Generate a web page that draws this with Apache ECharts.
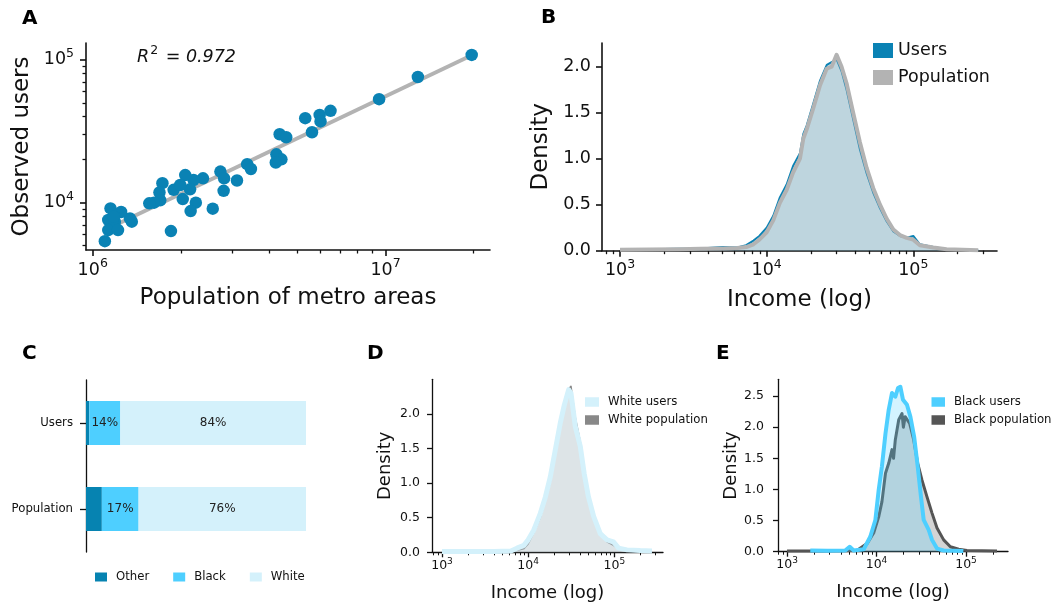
<!DOCTYPE html>
<html><head><meta charset="utf-8">
<script src="https://cdn.jsdelivr.net/npm/echarts@6/dist/echarts.min.js"></script>
<style>html,body{margin:0;padding:0;background:#fff}#c{width:1055px;height:610px}</style>
</head><body><div id="c"></div>
<script>
// ---------- Panel A: metro areas ----------
const metroPopulation = [1.97e7, 1.29e7, 9.51e6, 6.49e6, 5.96e6, 5.32e6, 6.0e6, 5.61e6, 4.35e6, 4.58e6, 4.24e6, 4.41e6, 4.22e6, 3.37e6, 3.47e6, 3.11e6, 2.73e6, 2.81e6, 2.80e6, 2.57e6, 2.38e6, 2.21e6, 2.07e6, 2.15e6, 1.89e6, 1.99e6, 2.03e6, 2.25e6, 2.16e6, 1.73e6, 1.69e6, 1.70e6, 1.62e6, 1.56e6, 1.85e6, 1.36e6, 1.34e6, 1.25e6, 1.15e6, 1.13e6, 1.19e6, 1.13e6, 1.22e6, 1.10e6, 1.18e6];
const metroUsers = [108000, 75700, 53000, 43900, 41100, 39000, 37000, 31100, 30100, 28700, 21800, 20100, 19100, 18600, 17200, 14300, 16500, 14800, 12100, 9080, 14800, 14400, 15600, 12400, 12300, 13300, 10600, 10000, 8730, 13700, 11800, 10400, 10000, 9890, 6330, 7370, 7760, 8610, 9120, 7570, 7370, 6430, 6430, 5380, 7980];
const r2Value = '0.972';

// ---------- Panel B: income density (log10 income) ----------
const incomeLogB = [3.0, 3.2, 3.4, 3.55, 3.7, 3.8, 3.86, 3.91, 3.95, 4.0, 4.045, 4.09, 4.136, 4.18, 4.227, 4.25, 4.273, 4.318, 4.364, 4.41, 4.443, 4.477, 4.511, 4.545, 4.59, 4.636, 4.682, 4.727, 4.773, 4.818, 4.864, 4.909, 4.955, 5.0, 5.045, 5.136, 5.227, 5.443];
const densityUsersB = [0.012, 0.015, 0.02, 0.025, 0.04, 0.035, 0.06, 0.11, 0.16, 0.25, 0.38, 0.58, 0.72, 0.92, 1.06, 1.27, 1.36, 1.6, 1.85, 2.02, 2.05, 2.08, 1.95, 1.75, 1.43, 1.1, 0.84, 0.63, 0.46, 0.32, 0.21, 0.16, 0.14, 0.16, 0.07, 0.04, 0.015, 0.005];
const densityPopB = [0.01, 0.012, 0.015, 0.02, 0.025, 0.03, 0.04, 0.07, 0.12, 0.2, 0.33, 0.52, 0.66, 0.85, 1.0, 1.22, 1.32, 1.55, 1.8, 1.98, 2.0, 2.13, 2.0, 1.82, 1.5, 1.18, 0.9, 0.68, 0.5, 0.35, 0.23, 0.17, 0.14, 0.12, 0.06, 0.035, 0.015, 0.005];

// ---------- Panel C: race shares (%) ----------
const shareCategories = ['Users', 'Population'];
const raceGroups = ['Other', 'Black', 'White'];
const shareOther = [1.5, 7.2];
const shareBlack = [14.1, 16.7];
const shareWhite = [84.4, 76.1];

// ---------- Panel D: white income density ----------
const incomeLogD = [3.0, 3.3, 3.6, 3.8, 3.87, 3.95, 4.0, 4.064, 4.14, 4.2, 4.257, 4.315, 4.373, 4.42, 4.47, 4.497, 4.547, 4.605, 4.65, 4.70, 4.76, 4.837, 4.915, 4.99, 5.05, 5.147, 5.3, 5.437];
const densityWhiteUsers = [0.01, 0.01, 0.012, 0.02, 0.06, 0.1, 0.18, 0.32, 0.56, 0.8, 1.09, 1.48, 1.87, 2.13, 2.35, 2.3, 1.82, 1.53, 1.14, 0.8, 0.52, 0.27, 0.18, 0.15, 0.06, 0.035, 0.025, 0.02];
const densityWhitePop = [0.005, 0.005, 0.008, 0.012, 0.03, 0.05, 0.12, 0.28, 0.5, 0.75, 1.02, 1.42, 1.82, 2.12, 2.36, 2.40, 1.95, 1.6, 1.2, 0.85, 0.55, 0.28, 0.15, 0.1, 0.05, 0.02, 0.012, 0.008];

// ---------- Panel E: black income density ----------
const incomeLogBlackUsers = [3.26, 3.45, 3.65, 3.70, 3.745, 3.857, 3.93, 3.987, 4.024, 4.06, 4.1, 4.136, 4.173, 4.21, 4.24, 4.266, 4.296, 4.34, 4.378, 4.42, 4.46, 4.497, 4.527, 4.583, 4.62, 4.676, 4.75, 4.97];
const densityBlackUsers = [0.02, 0.015, 0.02, 0.08, 0.02, 0.04, 0.24, 0.51, 0.99, 1.37, 1.9, 2.28, 2.55, 2.49, 2.63, 2.65, 2.44, 2.36, 2.17, 1.85, 1.37, 0.88, 0.51, 0.35, 0.19, 0.05, 0.02, 0.01];
const incomeLogBlackPop = [3.0, 3.4, 3.78, 3.894, 3.968, 4.024, 4.06, 4.1, 4.136, 4.173, 4.19, 4.21, 4.248, 4.285, 4.3, 4.32, 4.37, 4.415, 4.46, 4.508, 4.564, 4.62, 4.676, 4.75, 4.825, 4.918, 5.01, 5.346];
const densityBlackPop = [0.01, 0.01, 0.02, 0.13, 0.3, 0.56, 0.8, 1.26, 1.42, 1.64, 1.5, 1.8, 2.12, 2.22, 2.0, 2.17, 2.06, 1.8, 1.42, 1.15, 0.88, 0.62, 0.38, 0.19, 0.08, 0.04, 0.02, 0.01];

const densityTicksBD = [0, 0.5, 1, 1.5, 2];
const densityTicksE = [0, 0.5, 1, 1.5, 2, 2.5];

// ---------- helpers ----------
const FONT = 'DejaVu Sans';
const INK = '#111';
const C_USERS = '#0a82b4', C_POP = '#b3b3b3';
const C_OTHER = '#0683b1', C_BLACK = '#4ecfff', C_WHITE = '#d4f1fb';
const zip = (a, b) => a.map((v, i) => [v, b[i]]);

function majors(min, max) { const r = []; for (let n = Math.ceil(min); n <= max; n++) r.push(n); return r; }
function minors(min, max) {
  const r = [];
  for (let n = Math.floor(min); n <= Math.floor(max); n++)
    for (let k = 2; k <= 9; k++) { const v = n + Math.log10(k); if (v >= min && v <= max) r.push(v); }
  return r;
}
function richLog(base, sup, raise) {
  return {
    b: { fontSize: base, lineHeight: Math.round(base), fontFamily: FONT, color: INK },
    s: { fontSize: sup, lineHeight: Math.round(sup), fontFamily: FONT, color: INK, padding: [0, 0, raise * 2, 0] }
  };
}
const logFmt = v => '{b|10}{s|' + Math.round(v) + '}';

function logAxes(dim, gridIndex, min, max, o) {
  const pos = dim === 'x' ? 'bottom' : 'left';
  const major = {
    type: 'value', gridIndex, min, max, position: pos,
    splitLine: { show: false },
    axisLine: { show: true, onZero: false, lineStyle: { color: INK, width: o.lw } },
    axisTick: { show: true, customValues: majors(min, max), length: o.tl, lineStyle: { color: INK, width: o.lw } },
    axisLabel: { show: true, customValues: majors(min, max), margin: o.margin, formatter: logFmt, rich: richLog(o.fs, o.sfs, o.raise) },
    name: o.name, nameLocation: 'middle', nameGap: o.nameGap,
    nameTextStyle: { fontSize: o.nfs, fontFamily: FONT, color: INK }
  };
  const minor = {
    type: 'value', gridIndex, min, max, position: pos,
    splitLine: { show: false },
    axisLine: { show: false, onZero: false },
    axisTick: { show: true, customValues: minors(min, max), length: o.mtl, lineStyle: { color: INK, width: o.lw * 0.8 } },
    axisLabel: { show: false }
  };
  return [major, minor];
}
function densAxis(gridIndex, max, ticks, o) {
  return {
    type: 'value', gridIndex, min: 0, max, position: 'left',
    splitLine: { show: false },
    axisLine: { show: true, onZero: false, lineStyle: { color: INK, width: o.lw } },
    axisTick: { show: true, customValues: ticks, length: o.tl, lineStyle: { color: INK, width: o.lw } },
    axisLabel: { show: true, customValues: ticks, margin: o.margin, formatter: v => v.toFixed(1), fontSize: o.fs, fontFamily: FONT, color: INK },
    name: 'Density', nameLocation: 'middle', nameGap: o.nameGap,
    nameTextStyle: { fontSize: o.nfs, fontFamily: FONT, color: INK }
  };
}

// regression line in log-log space
const lx = metroPopulation.map(Math.log10), ly = metroUsers.map(Math.log10);
const mx = lx.reduce((a, b) => a + b, 0) / lx.length, my = ly.reduce((a, b) => a + b, 0) / ly.length;
let sxy = 0, sxx = 0;
lx.forEach((x, i) => { sxy += (x - mx) * (ly[i] - my); sxx += (x - mx) * (x - mx); });
const slope = sxy / sxx, icpt = my - slope * mx;
const xLo = Math.min(...lx), xHi = Math.max(...lx);
const fitLine = [[xLo, icpt + slope * xLo], [xHi, icpt + slope * xHi]];

const bigAx = { lw: 1.6, tl: 6, mtl: 3.5, fs: 17.5, sfs: 12.5, raise: 6, nfs: 23 };
const smallAx = { lw: 1.3, tl: 5, mtl: 3, fs: 12.5, sfs: 9, raise: 4.5, nfs: 18 };

const [axAx, axAxm] = logAxes('x', 0, 5.977, 7.357, Object.assign({}, bigAx, { margin: 11, name: 'Population of metro areas', nameGap: 37 }));
const [ayA, ayAm] = logAxes('y', 0, 3.669, 5.117, Object.assign({}, bigAx, { margin: 12, name: 'Observed users', nameGap: 52 }));
const [axB, axBm] = logAxes('x', 1, 2.877, 5.571, Object.assign({}, bigAx, { margin: 11, name: 'Income (log)', nameGap: 38 }));
const [axD, axDm] = logAxes('x', 3, 2.884, 5.565, Object.assign({}, smallAx, { margin: 7, name: 'Income (log)', nameGap: 32 }));
const [axE, axEm] = logAxes('x', 4, 2.899, 5.469, Object.assign({}, smallAx, { margin: 7, name: 'Income (log)', nameGap: 32 }));

const xC = { type: 'value', gridIndex: 2, min: 0, max: 100, show: false, splitLine: { show: false } };
const yC = {
  type: 'category', gridIndex: 2, data: shareCategories, inverse: true, position: 'left',
  axisLine: { show: true, onZero: false, lineStyle: { color: INK, width: 1.3 } },
  axisTick: { show: true, alignWithLabel: true, length: 6, lineStyle: { color: INK, width: 1.3 } },
  axisLabel: { margin: 13, fontSize: 11.7, fontFamily: FONT, color: INK },
  splitLine: { show: false }
};

function densLine(name, xs, ys, xi, yi, color, width, z) {
  return {
    name, type: 'line', xAxisIndex: xi, yAxisIndex: yi, data: zip(xs, ys),
    symbol: 'none', smooth: false, z,
    itemStyle: { color },
    lineStyle: { color, width, join: 'round' },
    areaStyle: { color, opacity: 0.25 }
  };
}
function barSeries(name, data, color, showLabel) {
  return {
    name, type: 'bar', stack: 'race', xAxisIndex: 4, yAxisIndex: 3, data, barWidth: 44,
    itemStyle: { color },
    label: { show: showLabel, position: 'inside', formatter: p => Math.round(p.value) + '%', fontSize: 12, fontFamily: FONT, color: '#222' }
  };
}
function legendItem(name, color) { return { name, icon: 'rect', itemStyle: { color, borderWidth: 0, opacity: 1 } }; }

const option = {
  animation: false,
  backgroundColor: '#fff',
  textStyle: { fontFamily: FONT },
  grid: [
    { left: 86, top: 43, width: 404, height: 207 },
    { left: 602, top: 43, width: 395, height: 207.7 },
    { left: 86, top: 380, width: 220, height: 172 },
    { left: 432, top: 379.3, width: 231, height: 173 },
    { left: 778, top: 379.3, width: 230, height: 172.4 }
  ],
  xAxis: [axAx, axAxm, axB, axBm, xC, axD, axDm, axE, axEm],
  yAxis: [ayA, ayAm,
    densAxis(1, 2.258, densityTicksBD, { lw: 1.6, tl: 6, margin: 11, fs: 17.5, nfs: 23, nameGap: 49 }),
    yC,
    densAxis(3, 2.50, densityTicksBD, { lw: 1.3, tl: 5, margin: 12, fs: 12.5, nfs: 18, nameGap: 38 }),
    densAxis(4, 2.77, densityTicksE, { lw: 1.3, tl: 5, margin: 14, fs: 12.5, nfs: 18, nameGap: 38 })
  ],
  legend: [
    { data: [legendItem('Users', C_USERS), legendItem('Population', C_POP)], orient: 'vertical', left: 868, top: 36.5,
      itemWidth: 20, itemHeight: 15, itemGap: 9, textStyle: { fontSize: 17.5, fontFamily: FONT, color: INK } },
    { data: [legendItem('Other', C_OTHER), legendItem('Black', C_BLACK), legendItem('White', C_WHITE)], orient: 'horizontal', left: 90, top: 566,
      itemWidth: 12, itemHeight: 9, itemGap: 24, textStyle: { fontSize: 11.7, fontFamily: FONT, color: INK, padding: [0, 0, 0, 4] } },
    { data: [legendItem('White users', C_WHITE), legendItem('White population', '#888')], orient: 'vertical', left: 580, top: 391,
      itemWidth: 14, itemHeight: 9.5, itemGap: 6, textStyle: { fontSize: 11.7, fontFamily: FONT, color: INK, padding: [0, 0, 0, 4] } },
    { data: [legendItem('Black users', C_BLACK), legendItem('Black population', '#555')], orient: 'vertical', left: 926.5, top: 391,
      itemWidth: 13.5, itemHeight: 9.5, itemGap: 6, textStyle: { fontSize: 11.7, fontFamily: FONT, color: INK, padding: [0, 0, 0, 4] } }
  ],
  series: [
    { type: 'line', xAxisIndex: 0, yAxisIndex: 0, data: fitLine, symbol: 'none', z: 1,
      lineStyle: { color: C_POP, width: 4 }, silent: true },
    { name: 'Metro areas', type: 'scatter', xAxisIndex: 0, yAxisIndex: 0, symbolSize: 12.5, z: 3,
      itemStyle: { color: C_USERS, opacity: 1 },
      data: zip(lx, ly) },
    densLine('Users', incomeLogB, densityUsersB, 2, 2, C_USERS, 2, 2),
    densLine('Population', incomeLogB, densityPopB, 2, 2, C_POP, 4, 3),
    barSeries('Other', shareOther, C_OTHER, false),
    barSeries('Black', shareBlack, C_BLACK, true),
    barSeries('White', shareWhite, C_WHITE, true),
    densLine('White population', incomeLogD, densityWhitePop, 5, 4, '#888', 1.5, 2),
    densLine('White users', incomeLogD, densityWhiteUsers, 5, 4, C_WHITE, 5, 3),
    densLine('Black population', incomeLogBlackPop, densityBlackPop, 7, 5, '#555', 3, 2),
    densLine('Black users', incomeLogBlackUsers, densityBlackUsers, 7, 5, C_BLACK, 4, 3)
  ],
  graphic: [
    { type: 'text', x: 22, y: 19, style: { text: 'A', fontSize: 20, fontWeight: 'bold', fontFamily: FONT, fill: '#000', verticalAlign: 'middle' } },
    { type: 'text', x: 541, y: 18, style: { text: 'B', fontSize: 20, fontWeight: 'bold', fontFamily: FONT, fill: '#000', verticalAlign: 'middle' } },
    { type: 'text', x: 22, y: 354, style: { text: 'C', fontSize: 20, fontWeight: 'bold', fontFamily: FONT, fill: '#000', verticalAlign: 'middle' } },
    { type: 'text', x: 367, y: 354, style: { text: 'D', fontSize: 20, fontWeight: 'bold', fontFamily: FONT, fill: '#000', verticalAlign: 'middle' } },
    { type: 'text', x: 716, y: 354, style: { text: 'E', fontSize: 20, fontWeight: 'bold', fontFamily: FONT, fill: '#000', verticalAlign: 'middle' } },
    { type: 'text', x: 137, y: 57, style: {
        text: '{i|R}{s|2}{i| = ' + r2Value + '}', verticalAlign: 'middle',
        rich: {
          i: { fontSize: 17.5, lineHeight: 18, fontStyle: 'italic', fontFamily: FONT, fill: '#111' },
          s: { fontSize: 12.5, lineHeight: 13, fontStyle: 'normal', fontFamily: FONT, fill: '#111', padding: [0, 2, 12, 1] }
        } } }
  ]
};
const chart = echarts.init(document.getElementById('c'), null, { renderer: 'canvas', width: 1055, height: 610 });
chart.setOption(option);
</script>
</body></html>
